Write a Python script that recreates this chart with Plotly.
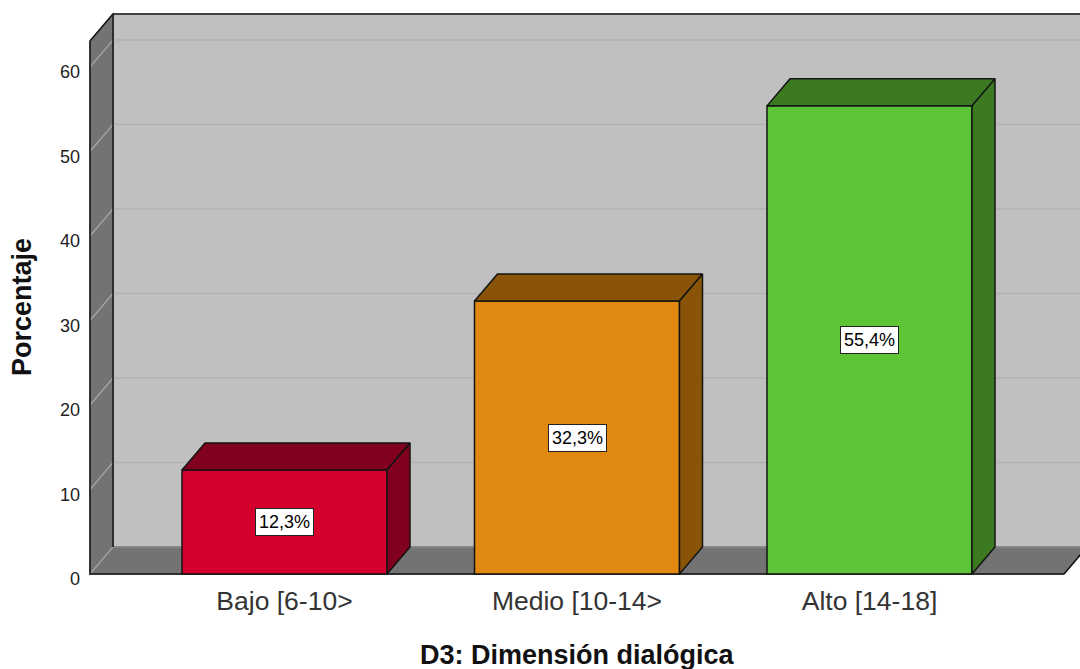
import plotly.graph_objects as go

categories = ["Bajo [6-10>", "Medio [10-14>", "Alto [14-18]"]
percentages = [12.3, 32.3, 55.4]
value_labels = ["12,3%", "32,3%", "55,4%"]
front_colors = ["#D6002F", "#E0880F", "#5EC437"]
dark_colors = ["#80001E", "#8A5408", "#3C7A22"]
y_ticks = [0, 10, 20, 30, 40, 50, 60]
x_title = "D3: Dimensión dialógica"
y_title = "Porcentaje"

PX_PER_X = 292.5
PX_PER_Y = 8.45
DX = 23 / PX_PER_X
DY = 27 / PX_PER_Y
BAR_W = 205 / PX_PER_X
X_L = (90 - 284.5) / PX_PER_X
X_R = (1064 - 284.5) / PX_PER_X
Y_T = (574 - 41) / PX_PER_Y
EDGE = "#141414"

def poly(points, fill, line=None, width=1.5):
    path = "M " + " L ".join(f"{x},{y}" for x, y in points) + " Z"
    return dict(type="path", path=path, xref="x", yref="y", layer="below",
                fillcolor=fill, line=dict(color=line or fill, width=width))

def seg(x0, y0, x1, y1, color, width=1.5):
    return dict(type="line", x0=x0, y0=y0, x1=x1, y1=y1, xref="x", yref="y",
                layer="below", line=dict(color=color, width=width))

shapes = [
    poly([(X_L + DX, DY), (X_R + DX, DY), (X_R + DX, Y_T + DY), (X_L + DX, Y_T + DY)], "#C0C0C0"),
    poly([(X_L, 0), (X_L + DX, DY), (X_L + DX, Y_T + DY), (X_L, Y_T)], "#737373"),
    poly([(X_L, 0), (X_R, 0), (X_R + DX, DY), (X_L + DX, DY)], "#737373"),
]
for t in y_ticks:
    shapes.append(seg(X_L, t, X_L + DX, t + DY, "#A6A6A6", 1.2))
    if t > 0:
        shapes.append(seg(X_L + DX, t + DY, X_R + DX, t + DY, "#B2B2B2", 1.5))
shapes += [
    seg(X_L + DX, DY, X_R + DX, DY, "#8A8A8A", 1.5),
    seg(X_L, 0, X_L, Y_T, EDGE),
    seg(X_L, Y_T, X_L + DX, Y_T + DY, EDGE),
    seg(X_L + DX, DY, X_L + DX, Y_T + DY, EDGE),
    seg(X_L + DX, Y_T + DY, X_R + DX, Y_T + DY, EDGE),
    seg(X_L, 0, X_R, 0, EDGE),
    seg(X_R, 0, X_R + DX, DY, EDGE),
]

fig = go.Figure()
xs = list(range(len(categories)))
fig.add_trace(go.Bar(x=xs, y=percentages, width=BAR_W, marker=dict(
    color=front_colors, line=dict(color=EDGE, width=1.5)), showlegend=False, hoverinfo="skip"))

for x, v, dark in zip(xs, percentages, dark_colors):
    l, r = x - BAR_W / 2, x + BAR_W / 2
    fig.add_trace(go.Scatter(
        x=[l, r, r + DX, l + DX, l], y=[v, v, v + DY, v + DY, v], mode="lines", fill="toself",
        fillcolor=dark, line=dict(color=EDGE, width=1.5), showlegend=False, hoverinfo="skip"))
    fig.add_trace(go.Scatter(
        x=[r, r + DX, r + DX, r, r], y=[0, DY, v + DY, v, 0], mode="lines", fill="toself",
        fillcolor=dark, line=dict(color=EDGE, width=1.5), showlegend=False, hoverinfo="skip"))

annotations = [dict(x=x, y=v / 2, text=t, xref="x", yref="y", showarrow=False,
                    font=dict(family="Liberation Sans", size=18, color="black"),
                    bgcolor="white", bordercolor="#222222", borderwidth=1, borderpad=3)
               for x, v, t in zip(xs, percentages, value_labels)]
title_font = dict(family="Liberation Sans", size=27, color="#111111", weight="bold")
annotations += [
    dict(text=x_title, x=1, y=(574 - 655) / PX_PER_Y, xref="x", yref="y", showarrow=False,
         font=title_font, xanchor="center", yanchor="middle", yshift=0),
    dict(text=y_title, x=22 / 1080, y=(669 - 307) / 669, xref="paper", yref="paper", showarrow=False,
         font=title_font, textangle=-90, xanchor="center", yanchor="middle"),
]
# the horizontal title lies below the plot area, centred on the middle bar
annotations[-2].update(xref="x", yref="paper", y=(669 - 655) / 669, yanchor="middle")
# paper y is measured on the plot area, so convert both titles
plot_h = 669 - 10 - 92
plot_w = 1080 - 86
annotations[-2]["y"] = (577 - 655) / plot_h
annotations[-1].update(x=(22 - 86) / plot_w, y=(577 - 307) / plot_h)

fig.update_layout(
    width=1080, height=669, autosize=False,
    margin=dict(l=86, r=0, t=10, b=92),
    paper_bgcolor="white", plot_bgcolor="white",
    shapes=shapes, annotations=annotations, showlegend=False,
    font=dict(family="Liberation Sans", color="#222222"),
    xaxis=dict(range=[(86 - 284.5) / PX_PER_X, (1080 - 284.5) / PX_PER_X],
               tickmode="array", tickvals=xs, ticktext=categories,
               showgrid=False, zeroline=False, showline=False, ticks="",
               tickfont=dict(size=26.5, color="#333333"), ticklabelstandoff=5, automargin=False),
    yaxis=dict(range=[-3 / PX_PER_Y, (574 - 10) / PX_PER_Y],
               tickmode="array", tickvals=y_ticks,
               showgrid=False, zeroline=False, showline=False, ticks="",
               tickfont=dict(size=18, color="#222222"), ticklabelshift=5, ticklabelstandoff=5,
               automargin=False),
)
fig.write_html("out.html", post_script="document.body.style.margin='0';",
               config=dict(displayModeBar=False))
